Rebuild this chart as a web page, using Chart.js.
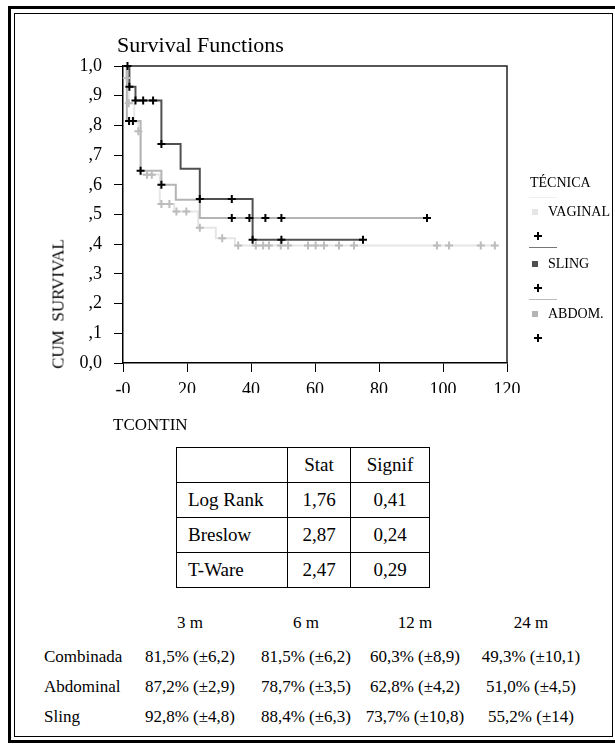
<!DOCTYPE html>
<html>
<head>
<meta charset="utf-8">
<script src="https://cdn.jsdelivr.net/npm/chart.js@4.4.0/dist/chart.umd.min.js"></script>
<style>
body { margin:0; width:615px; height:747px; background:#fff; position:relative; overflow:hidden;
  font-family:"Liberation Serif","Times New Roman",serif; color:#000; }
.frameOut { position:absolute; left:8px; top:6px; width:606px; height:731px; border:3px solid #000; }
.frameIn { position:absolute; left:14px; top:13px; width:597px; height:722px; border:1px solid #000; }
#kmChart { position:absolute; left:0; top:0; }
.txt { position:absolute; white-space:nowrap; line-height:1; }
.title { left:117px; top:34px; font-size:22px; }
.ytitle { left:58px; top:304px; font-size:17px; transform:translate(-50%,-50%) rotate(-90deg); }
.xtitle { left:113px; top:416px; font-size:17px; }
.leg { font-size:14px; }
.sq { position:absolute; width:6px; height:6px; }
.lline { position:absolute; height:1px; width:28px; left:529px; }
.plus { position:absolute; width:8px; height:8px; }
.plus:before { content:""; position:absolute; left:3px; top:0; width:2px; height:8px; background:#000; }
.plus:after { content:""; position:absolute; left:0; top:3px; width:8px; height:2px; background:#000; }
table.stats { position:absolute; left:176px; top:447px; border-collapse:collapse; font-size:19px; }
table.stats td { border:1px solid #000; height:34px; padding:0; text-align:center; }
table.stats td.lab { text-align:left; padding-left:11px; width:99px; }
.bt { font-size:17px; }
</style>
</head>
<body>
<div class="frameOut"></div>
<div class="frameIn"></div>
<canvas id="kmChart" width="615" height="420"></canvas>

<div class="txt title">Survival Functions</div>
<div class="txt ytitle">CUM&nbsp;&nbsp;SURVIVAL</div>
<div class="txt xtitle">TCONTIN</div>

<div id="legend"></div>

<table class="stats" id="stats"></table>
<div id="bottom"></div>

<script>
// tick labels
var yTickLabels = ['0,0', ',1', ',2', ',3', ',4', ',5', ',6', ',7', ',8', ',9', '1,0'];
var xTickLabels = ['-0', '20', '40', '60', '80', '100', '120'];

// VAGINAL (lightest line, grey censor marks)
var vagT = [0, 1, 1.8, 3.5, 4.8, 5.5, 11.5, 16, 23.5, 29, 35, 116.2];
var vagS = [1.0, 0.96, 0.875, 0.81, 0.78, 0.635, 0.535, 0.51, 0.455, 0.42, 0.396, 0.396];
var vagCensT = [1.2, 1.8, 4.8, 7.5, 9, 12, 14.5, 16.7, 19.8, 24, 31, 36, 41.5, 43.8, 45.6, 49.3, 51.6, 57.8, 60.2, 62.8, 67.5, 72.2, 98.1, 101.9, 111.8, 116.2];
var vagCensS = [0.96, 0.875, 0.78, 0.634, 0.634, 0.535, 0.535, 0.51, 0.51, 0.455, 0.42, 0.396, 0.396, 0.396, 0.396, 0.396, 0.396, 0.396, 0.396, 0.396, 0.396, 0.396, 0.396, 0.396, 0.396, 0.396];

// SLING (dark line)
var slingT = [0, 2, 3.9, 12, 18, 24, 40.5, 75];
var slingS = [1.0, 0.93, 0.884, 0.737, 0.654, 0.552, 0.415, 0.415];
var slingCensT = [1.4, 2, 3.9, 6.3, 9.4, 12, 24, 34, 40.5, 49.5, 75];
var slingCensS = [1.0, 0.93, 0.884, 0.884, 0.884, 0.737, 0.552, 0.552, 0.415, 0.415, 0.415];

// ABDOM. (medium line)
var abdT = [0, 1.2, 5.5, 12, 16.5, 24, 95];
var abdS = [1.0, 0.815, 0.647, 0.60, 0.55, 0.488, 0.488];
var abdCensT = [1.9, 3.1, 5.5, 12, 34, 39.5, 44.5, 49.5, 95];
var abdCensS = [0.815, 0.815, 0.647, 0.60, 0.488, 0.488, 0.488, 0.488, 0.488];

// test table
var testNames = ['Log Rank', 'Breslow', 'T-Ware'];
var testStat = ['1,76', '2,87', '2,47'];
var testSignif = ['0,41', '0,24', '0,29'];

// survival at time points
var timePoints = ['3 m', '6 m', '12 m', '24 m'];
var groupNames = ['Combinada', 'Abdominal', 'Sling'];
var combinada = ['81,5% (±6,2)', '81,5% (±6,2)', '60,3% (±8,9)', '49,3% (±10,1)'];
var abdominal = ['87,2% (±2,9)', '78,7% (±3,5)', '62,8% (±4,2)', '51,0% (±4,5)'];
var sling = ['92,8% (±4,8)', '88,4% (±6,3)', '73,7% (±10,8)', '55,2% (±14)'];

var colVag = '#e6e6e6', colSling = '#505050', colAbd = '#b4b4b4';
var serif = '"Liberation Serif", "Times New Roman", serif';

function pts(t, s) {
    var out = [];
    for (var i = 0; i < t.length; i++) out.push({x: t[i], y: s[i]});
    return out;
}

function lineSet(label, t, s, color) {
    return { label: label, data: pts(t, s), borderColor: color, borderWidth: 2,
             stepped: 'before', pointRadius: 0, fill: false };
}

function censSet(label, t, s, color) {
    return { label: label, data: pts(t, s), showLine: false, pointStyle: 'cross',
             pointRadius: 4, borderColor: color, borderWidth: 2, backgroundColor: color };
}

var framePlugin = {
    id: 'frame',
    beforeDatasetsDraw: function(chart) {
        var a = chart.chartArea, c = chart.ctx;
        c.save();
        c.strokeStyle = '#222';
        c.lineWidth = 1.5;
        c.beginPath();
        c.moveTo(a.left, a.top);
        c.lineTo(a.right, a.top);
        c.lineTo(a.right, a.bottom);
        c.stroke();
        c.restore();
    }
};

var ctx = document.getElementById('kmChart');
var myChart = new Chart(ctx, {
    type: 'line',
    data: {
        datasets: [
            censSet('SLING +', slingCensT, slingCensS, '#000'),
            censSet('ABDOM. +', abdCensT, abdCensS, '#000'),
            censSet('VAGINAL +', vagCensT, vagCensS, '#bcbcbc'),
            lineSet('SLING', slingT, slingS, colSling),
            lineSet('ABDOM.', abdT, abdS, colAbd),
            lineSet('VAGINAL', vagT, vagS, colVag)
        ]
    },
    options: {
        responsive: false,
        animation: false,
        clip: false,
        layout: { padding: { left: 45, top: 66, right: 108, bottom: 27 } },
        plugins: { legend: { display: false }, tooltip: { enabled: false } },
        scales: {
            x: {
                type: 'linear', min: 0, max: 120,
                ticks: { stepSize: 20, padding: 7, color: '#000',
                         font: { family: serif, size: 18 },
                         callback: function(v) { return xTickLabels[Math.round(v / 20)]; } },
                grid: { drawOnChartArea: false, tickLength: 9, color: '#000' },
                border: { color: '#000', width: 1.5 },
                afterFit: function(s) { s.height = 30; }
            },
            y: {
                min: 0, max: 1,
                ticks: { stepSize: 0.1, padding: 12, color: '#000',
                         font: { family: serif, size: 18 },
                         callback: function(v) { return yTickLabels[Math.round(v * 10)]; } },
                grid: { drawOnChartArea: false, tickLength: 9, color: '#000' },
                border: { color: '#000', width: 1.5 },
                afterFit: function(s) { s.width = 78; }
            }
        }
    },
    plugins: [framePlugin]
});

// legend
var legendHtml = '';
legendHtml += '<div class="txt leg" style="left:530px;top:176px">TÉCNICA</div>';
legendHtml += '<div class="lline" style="top:197px;background:#eeeeee"></div>';
var legItems = [
    { name: 'VAGINAL', color: colVag, y: 212, line: '#777777' },
    { name: 'SLING', color: colSling, y: 264, line: '#bbbbbb' },
    { name: 'ABDOM.', color: colAbd, y: 314, line: null }
];
for (var i = 0; i < legItems.length; i++) {
    var it = legItems[i];
    legendHtml += '<div class="sq" style="left:532px;top:' + (it.y - 3) + 'px;background:' + it.color + '"></div>';
    legendHtml += '<div class="txt leg" style="left:548px;top:' + (it.y - 7) + 'px">' + it.name + '</div>';
    legendHtml += '<div class="plus" style="left:534px;top:' + (it.y + 20) + 'px"></div>';
    if (it.line) legendHtml += '<div class="lline" style="top:' + (it.y + 35) + 'px;background:' + it.line + '"></div>';
}
document.getElementById('legend').innerHTML = legendHtml;

// stats table
var th = '<tr><td class="lab"></td><td style="width:62px">Stat</td><td style="width:78px">Signif</td></tr>';
for (var r = 0; r < testNames.length; r++) {
    th += '<tr><td class="lab">' + testNames[r] + '</td><td>' + testStat[r] + '</td><td>' + testSignif[r] + '</td></tr>';
}
document.getElementById('stats').innerHTML = th;

// bottom survival table
var colCenters = [190, 306, 415, 531];
var rowY = [656, 686, 716];
var rows = [combinada, abdominal, sling];
var bh = '';
for (var c = 0; c < timePoints.length; c++) {
    bh += '<div class="txt bt" style="left:' + colCenters[c] + 'px;top:614px;transform:translateX(-50%)">' + timePoints[c] + '</div>';
}
for (var r2 = 0; r2 < rows.length; r2++) {
    bh += '<div class="txt bt" style="left:44px;top:' + (rowY[r2] - 8) + 'px">' + groupNames[r2] + '</div>';
    for (var c2 = 0; c2 < rows[r2].length; c2++) {
        bh += '<div class="txt bt" style="left:' + colCenters[c2] + 'px;top:' + (rowY[r2] - 8) + 'px;transform:translateX(-50%)">' + rows[r2][c2] + '</div>';
    }
}
document.getElementById('bottom').innerHTML = bh;
</script>
</body>
</html>
